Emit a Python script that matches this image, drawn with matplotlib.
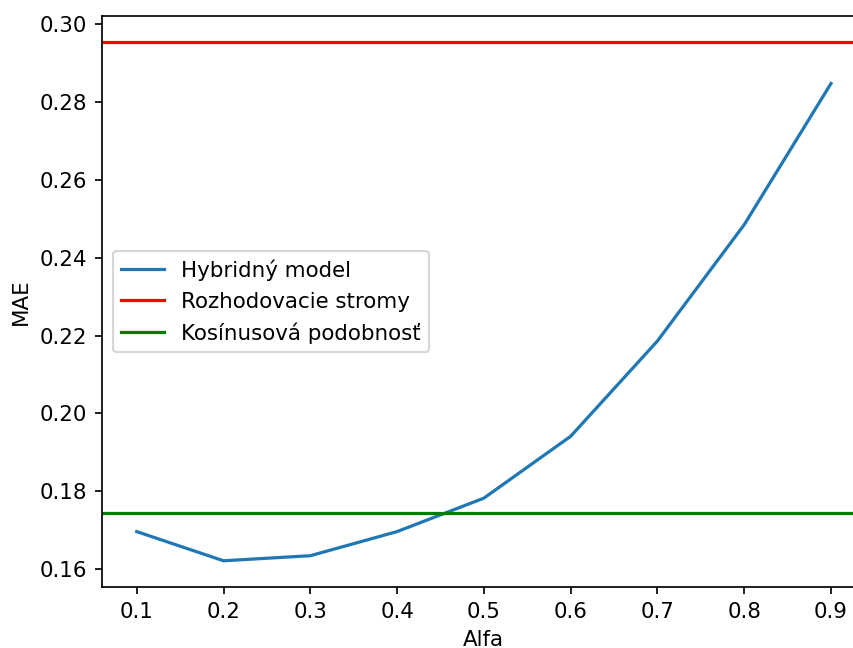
import numpy as np
import matplotlib
matplotlib.use('agg')
import matplotlib.pyplot as plt

# data
alfa = [0.1, 0.2, 0.3, 0.4, 0.5, 0.6, 0.7, 0.8, 0.9]
mae_hybrid = [0.1696, 0.1621, 0.1634, 0.1696, 0.1782, 0.1941, 0.2186, 0.2485, 0.2848]
mae_trees = 0.2954
mae_cosine = 0.1743

labels = ['Hybridný model', 'Rozhodovacie stromy', 'Kosínusová podobnosť']

fig1 = plt.figure(figsize=(853 / 154, 648 / 154), dpi=154)
ax1 = fig1.add_axes([0.1196, 0.0946, 0.8953, 0.8802])

ax1.plot(alfa, mae_hybrid, label=labels[0])
ax1.axhline(mae_trees, color='red', label=labels[1])
ax1.axhline(mae_cosine, color='green', label=labels[2])

ax1.set_xlabel('Alfa')
ax1.set_ylabel('MAE')
ax1.legend(loc='center left')

fig1.savefig('out.png', dpi=154)
